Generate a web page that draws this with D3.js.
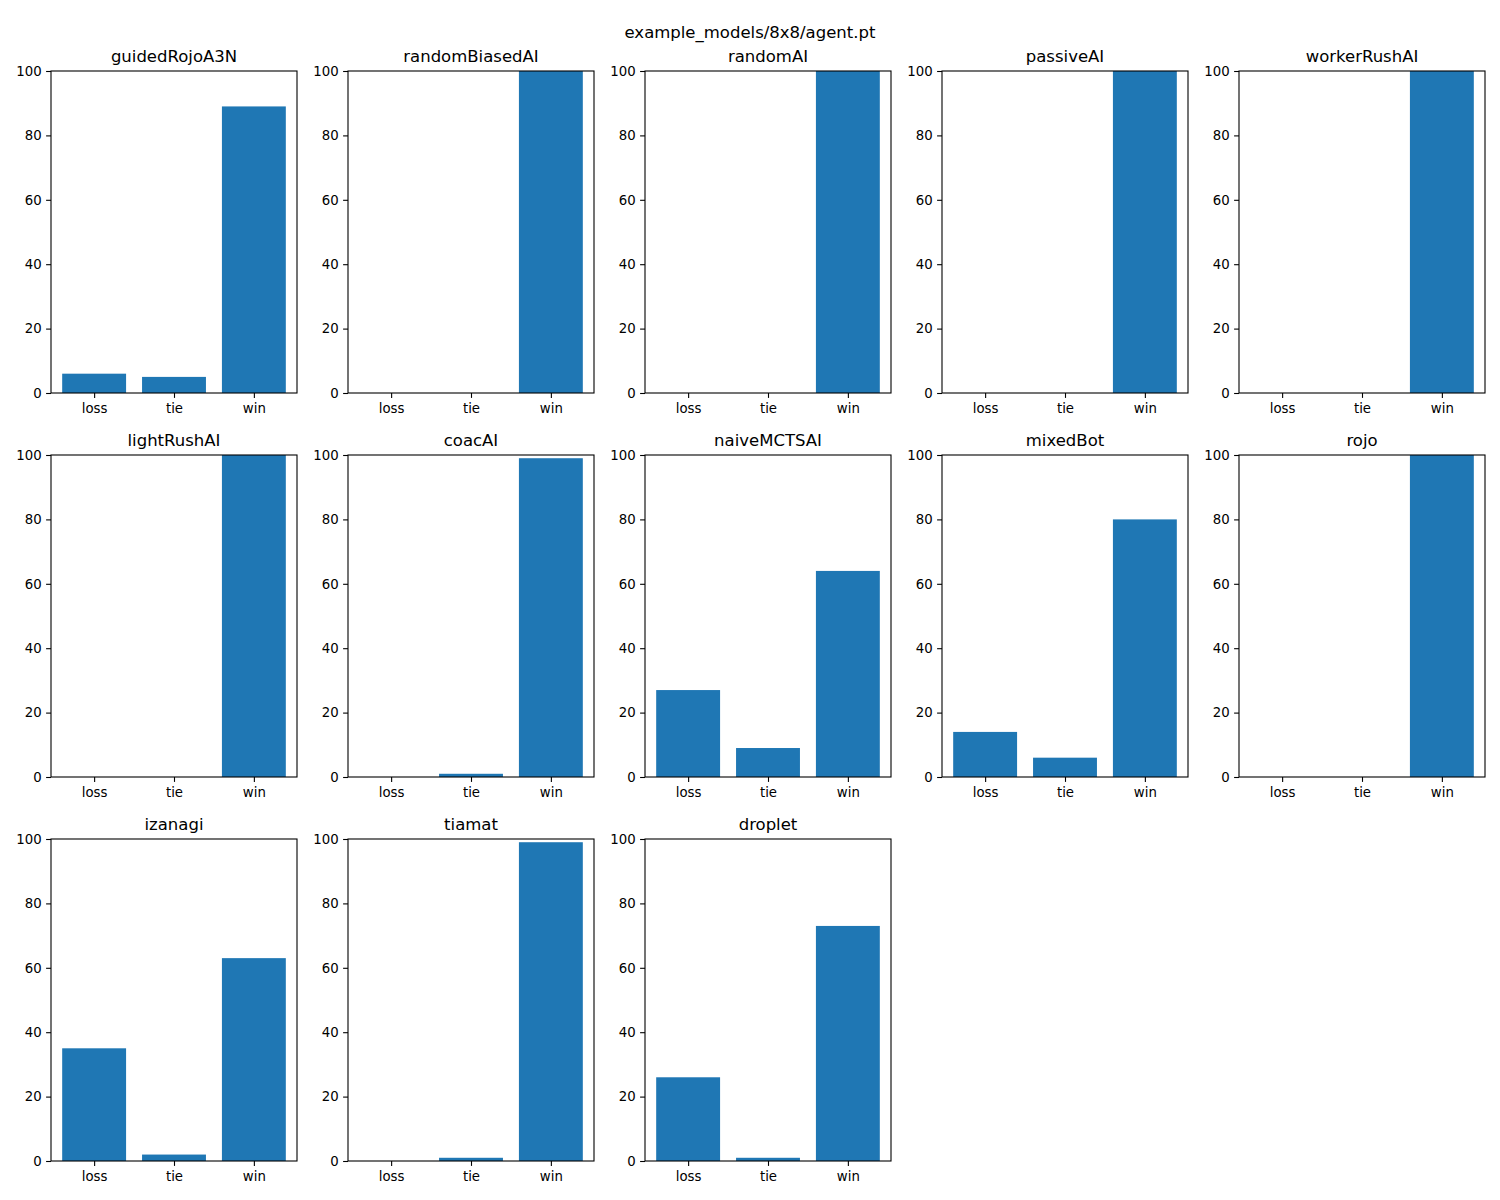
<!DOCTYPE html>
<html><head><meta charset="utf-8">
<script src="https://cdn.jsdelivr.net/npm/d3@7"></script>
<style>body{margin:0;background:#fff;} svg{font-family:"DejaVu Sans",sans-serif;}</style>
</head><body>
<script>
const suptitle = "example_models/8x8/agent.pt";
const opponents = ["guidedRojoA3N","randomBiasedAI","randomAI","passiveAI","workerRushAI","lightRushAI","coacAI","naiveMCTSAI","mixedBot","rojo","izanagi","tiamat","droplet"];
const outcomes = ["loss","tie","win"];
const lossValues = [6,0,0,0,0,0,0,27,14,0,35,0,26];
const tieValues  = [5,0,0,0,0,0,1,9,6,0,2,1,1];
const winValues  = [89,100,100,100,100,100,99,64,80,100,63,99,73];
const yTicks = [0,20,40,60,80,100];

const W=1500,H=1200;
const svg=d3.select("body").append("svg").attr("width",W).attr("height",H);
svg.append("text").attr("x",750).attr("y",38).attr("text-anchor","middle").attr("font-size","16.5px").text(suptitle);

const axW=246, axH=322, colStep=297, rowTops=[71,455,839], left0=51;
const x=d3.scaleLinear().domain([-0.54,2.54]).range([0,axW]);
const y=d3.scaleLinear().domain([0,100]).range([axH,0]);

opponents.forEach((name,i)=>{
  const r=Math.floor(i/5), c=i%5;
  const g=svg.append("g").attr("transform",`translate(${left0+c*colStep},${rowTops[r]})`);
  const vals=[lossValues[i],tieValues[i],winValues[i]];
  g.selectAll("rect.bar").data(vals).join("rect").attr("class","bar")
    .attr("x",(d,j)=>x(j-0.4)).attr("width",x(0.8)-x(0))
    .attr("y",d=>y(d)).attr("height",d=>y(0)-y(d)).attr("fill","#1f77b4");
  const xa=d3.axisBottom(x).tickValues([0,1,2]).tickFormat(j=>outcomes[j]).tickSize(4.9).tickPadding(6);
  const ya=d3.axisLeft(y).tickValues(yTicks).tickSize(4.9).tickPadding(4.5);
  const gx=g.append("g").attr("transform",`translate(0,${axH})`).call(xa);
  const gy=g.append("g").call(ya);
  [gx,gy].forEach(a=>{a.select(".domain").remove();a.selectAll("text").attr("font-size","13.3px").attr("font-family","DejaVu Sans").attr("fill","#000");a.selectAll("line").attr("stroke","#000").attr("stroke-width",1.1);});
  g.append("rect").attr("x",0).attr("y",0).attr("width",axW).attr("height",axH).attr("fill","none").attr("stroke","#000").attr("stroke-width",1.1);
  g.append("text").attr("x",axW/2).attr("y",-9).attr("text-anchor","middle").attr("font-size","16.5px").text(name);
});
</script>
</body></html>
